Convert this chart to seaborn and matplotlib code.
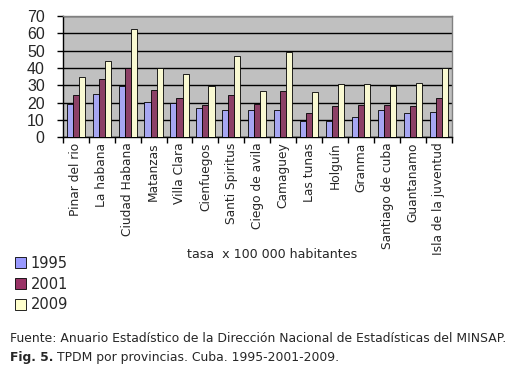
import pandas as pd
import seaborn as sns
import matplotlib.pyplot as plt
from matplotlib.patches import Patch
from matplotlib.ticker import FixedLocator

provincias = ["Pinar del rio", "La habana", "Ciudad Habana", "Matanzas", "Villa Clara",
              "Cienfuegos", "Santi Spiritus", "Ciego de avila", "Camaguey", "Las tunas",
              "Holguín", "Granma", "Santiago de cuba", "Guantanamo", "Isla de la juventud"]
anios = ["1995", "2001", "2009"]
tasa_1995 = [18.9, 24.7, 29.5, 20.6, 19.9, 16.6, 15.4, 15.4, 15.4, 9.3, 9.1, 11.6, 15.6, 13.7, 14.3]
tasa_2001 = [24.1, 33.4, 39.7, 27.2, 22.4, 18.3, 24.1, 18.9, 26.6, 13.7, 17.9, 18.5, 18.5, 17.9, 22.6]
tasa_2009 = [34.5, 44.3, 62.3, 39.7, 36.4, 29.7, 46.7, 26.4, 49.4, 26.0, 30.5, 30.5, 29.5, 31.2, 39.7]
colores = ["#9999FF", "#993366", "#FFFFCC"]

df = pd.DataFrame({
    "provincia": provincias * 3,
    "anio": [a for a in anios for _ in provincias],
    "tasa": tasa_1995 + tasa_2001 + tasa_2009,
})

sns.set_style("white")
plt.rcParams["font.family"] = ["DejaVu Sans"]

fig = plt.figure(figsize=(5.23, 3.82), dpi=100)
ax = fig.add_axes([0.120, 0.641, 0.744, 0.317])
ax.set_facecolor("#C0C0C0")

sns.barplot(data=df, x="provincia", y="tasa", hue="anio", palette=colores,
            order=provincias, hue_order=anios, width=0.7, gap=0,
            edgecolor="black", linewidth=0.6, legend=False, ax=ax, zorder=3)

ax.set_ylim(0, 70)
ax.set_xlim(-0.5, len(provincias) - 0.5)
ax.set_yticks(range(0, 71, 10))
ax.yaxis.grid(True, color="black", linewidth=1.0, zorder=1)
ax.set_axisbelow(True)
ax.tick_params(axis="y", labelsize=11.5, length=4, width=1, color="black", left=True, pad=9)
for t in ax.get_yticklabels():
    t.set_fontfamily("Liberation Sans")

ax.set_xticks(range(len(provincias)))
ax.set_xticklabels(provincias, rotation=90, fontsize=8.8)
ax.tick_params(axis="x", which="major", length=0, pad=4)
ax.xaxis.set_minor_locator(FixedLocator([i + 0.5 for i in range(-1, len(provincias))]))
ax.tick_params(axis="x", which="minor", length=4, width=1, color="black", bottom=True)

ax.set_xlabel("")
ax.set_ylabel("")
for s in ["left", "bottom"]:
    ax.spines[s].set_color("black")
    ax.spines[s].set_linewidth(1)
for s in ["top", "right"]:
    ax.spines[s].set_color("#808080")
    ax.spines[s].set_linewidth(1)

handles = [Patch(facecolor=c, edgecolor="black", linewidth=0.6) for c in colores]
fig.legend(handles, anios, loc="upper left", bbox_to_anchor=(0.004, 0.365),
           frameon=False, handlelength=0.75, handleheight=0.75,
           handletextpad=0.3, labelspacing=0.4, prop={"family": "DejaVu Sans", "size": 10.5})

fig.text(0.52, 0.335, "tasa  x 100 000 habitantes", ha="center", va="center", fontsize=9.1)
fig.text(0.019, 0.115, "Fuente: Anuario Estadístico de la Dirección Nacional de Estadísticas del MINSAP.",
         ha="left", va="center", fontsize=8.9)
fig_lbl = fig.text(0.019, 0.065, "Fig. 5.", ha="left", va="center", fontsize=8.9, fontweight="bold")
ax.annotate("TPDM por provincias. Cuba. 1995-2001-2009.", xy=(1, 0.5), xycoords=fig_lbl,
            xytext=(3, 0), textcoords="offset points", ha="left", va="center",
            fontsize=8.9, annotation_clip=False)

fig.savefig("out.png", dpi=100)
